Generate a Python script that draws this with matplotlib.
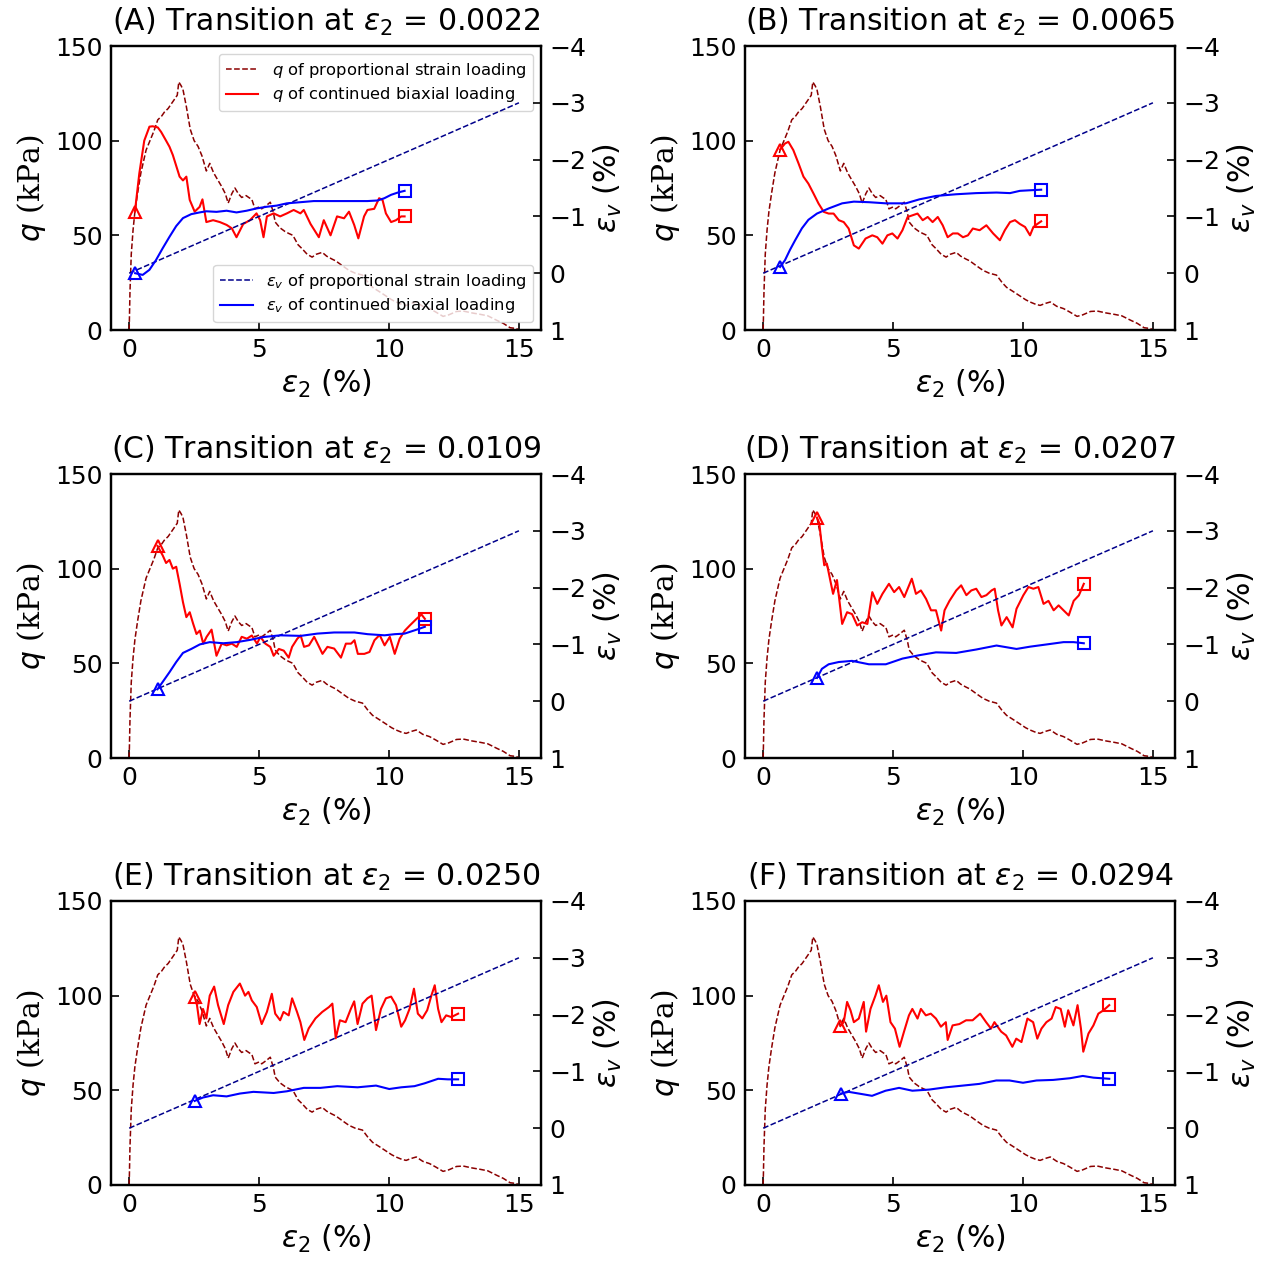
import matplotlib
matplotlib.use("Agg")
import matplotlib.pyplot as plt

# ---------------- data ----------------
# proportional strain loading: q (kPa) vs eps2 (%)
prop_x = [0.0, 0.03, 0.08, 0.15, 0.22, 0.32, 0.45, 0.65, 0.8, 0.95, 1.1, 1.25, 1.35, 1.5, 1.6,
          1.75, 1.85, 1.91, 2.0, 2.07, 2.2, 2.35, 2.5, 2.65, 2.8, 2.97, 3.1, 3.25, 3.42, 3.55,
          3.7, 3.81, 3.95, 4.07, 4.2, 4.33, 4.5, 4.6, 4.72, 4.84, 5.0, 5.1, 5.3, 5.43, 5.55,
          5.62, 5.8, 6.0, 6.14, 6.3, 6.5, 6.65, 6.85, 7.04, 7.2, 7.43, 7.6, 7.8, 7.95, 8.2,
          8.46, 8.7, 8.98, 9.2, 9.37, 9.6, 9.88, 10.1, 10.27, 10.5, 10.66, 10.85, 11.05, 11.3,
          11.56, 11.8, 12.08, 12.3, 12.6, 12.86, 13.2, 13.5, 13.8, 14.15, 14.4, 14.66, 14.9, 15.0]
prop_q = [0, 20, 40, 53, 62.5, 72, 83, 95, 100, 105, 111, 113, 115, 117, 119,
          122, 124, 131, 129, 127, 118, 106, 100, 97, 92, 84, 88, 83, 79, 76,
          72, 67, 72, 75, 72, 70, 71, 70, 69, 64, 65, 64, 66, 67.5, 62,
          57, 54, 52, 51, 50, 45, 43, 40, 38.5, 40, 41, 39, 37.5, 36.5, 34,
          31.5, 30, 29, 25, 22.5, 20.5, 18, 16, 14.8, 13.5, 13, 14, 14.8, 12.5,
          11.3, 9.5, 7.2, 8.0, 9.8, 10, 9, 8.3, 7.5, 5.1, 3.5, 1.2, 0.8, 0]
# proportional strain loading: eps_v (%)
prop_ev_x = [0.0, 15.0]
prop_ev = [0.0, -3.0]

panel_titles = ["(A) Transition at $\\varepsilon_2$ = 0.0022",
                "(B) Transition at $\\varepsilon_2$ = 0.0065",
                "(C) Transition at $\\varepsilon_2$ = 0.0109",
                "(D) Transition at $\\varepsilon_2$ = 0.0207",
                "(E) Transition at $\\varepsilon_2$ = 0.0250",
                "(F) Transition at $\\varepsilon_2$ = 0.0294"]

# continued biaxial loading, panel A
A_qx = [0.22, 0.39, 0.58, 0.78, 0.9, 1.1, 1.23, 1.42, 1.55, 1.68, 1.94, 2.07, 2.2, 2.33, 2.52,
        2.71, 2.82, 2.97, 3.23, 3.49, 3.75, 3.95, 4.13, 4.39, 4.65, 4.9, 5.04, 5.17, 5.3, 5.56,
        5.81, 6.07, 6.33, 6.59, 6.72, 6.98, 7.3, 7.49, 7.75, 8.0, 8.27, 8.46, 8.66, 8.82, 9.04,
        9.17, 9.43, 9.62, 9.75, 9.88, 10.08, 10.27, 10.47, 10.6]
A_q = [62.5, 82.7, 100, 107.4, 107.6, 107, 104.6, 100, 96.8, 92.4, 81, 79, 81, 68.7, 62.5,
       65, 69, 57, 58, 57, 55.5, 53.7, 49, 56, 58, 61.6, 58, 49, 60, 61.6,
       60, 61.6, 63.4, 61.6, 63.4, 56, 49, 58, 50, 60, 59, 62.5, 55.5, 48.4, 60,
       63.4, 64, 69.6, 68.7, 61.6, 57, 58, 60, 60]
A_evx = [0.23, 0.52, 0.78, 1.03, 1.29, 1.55, 1.81, 2.07, 2.39, 2.71, 2.97, 3.36, 3.75, 4.13,
         4.52, 4.9, 5.3, 5.68, 6.07, 6.59, 7.1, 7.88, 8.66, 9.17, 9.56, 9.82, 10.08, 10.34, 10.6]
A_ev = [0.0, 0.03, -0.06, -0.23, -0.44, -0.64, -0.83, -0.97, -1.04, -1.07, -1.09, -1.08, -1.1,
        -1.07, -1.1, -1.14, -1.17, -1.19, -1.23, -1.25, -1.27, -1.27, -1.27, -1.27, -1.28,
        -1.32, -1.38, -1.42, -1.45]

# panel B
B_qx = [0.65, 0.84, 0.97, 1.16, 1.36, 1.55, 1.74, 1.94, 2.13, 2.33, 2.52, 2.71, 2.91, 3.1, 3.29,
        3.49, 3.68, 3.94, 4.2, 4.39, 4.59, 4.78, 4.97, 5.17, 5.36, 5.56, 5.75, 5.94, 6.14, 6.33,
        6.52, 6.72, 6.91, 7.1, 7.3, 7.49, 7.69, 7.88, 8.07, 8.33, 8.59, 8.85, 9.11, 9.3, 9.5,
        9.69, 9.88, 10.08, 10.27, 10.4, 10.53, 10.7]
B_q = [95.3, 98.5, 99.4, 95, 88, 81, 77.3, 72, 66.8, 62.4, 61.5, 61.5, 58, 57, 53.6,
       44.7, 43, 48.3, 50, 49, 45.6, 50, 51, 48.3, 52.7, 59.7, 60.6, 61.5, 58, 59.7,
       57, 59.7, 55.3, 49, 51, 51, 49, 50, 53.6, 52.7, 55.3, 51, 47.4, 52.7, 57,
       58, 56, 54.4, 50, 54.4, 55.8, 57.4]
B_evx = [0.65, 0.84, 1.03, 1.23, 1.49, 1.74, 2.07, 2.52, 3.04, 3.49, 4.07, 4.72, 5.49, 6.01,
         6.65, 7.43, 8.2, 8.98, 9.5, 9.88, 10.27, 10.7]
B_ev = [-0.11, -0.23, -0.41, -0.58, -0.79, -0.94, -1.05, -1.14, -1.23, -1.26, -1.25, -1.23,
        -1.23, -1.3, -1.36, -1.39, -1.41, -1.42, -1.41, -1.45, -1.46, -1.47]

# panel C
C_qx = [1.09, 1.29, 1.42, 1.55, 1.68, 1.81, 1.94, 2.07, 2.2, 2.33, 2.46, 2.59, 2.72, 2.85, 2.98,
        3.17, 3.36, 3.56, 3.75, 3.95, 4.14, 4.33, 4.53, 4.72, 4.92, 5.05, 5.24, 5.43, 5.56, 5.76,
        5.95, 6.14, 6.27, 6.47, 6.6, 6.73, 6.92, 7.12, 7.31, 7.44, 7.63, 7.89, 8.15, 8.34, 8.54,
        8.67, 8.8, 9.05, 9.25, 9.44, 9.64, 9.83, 10.03, 10.22, 10.41, 10.61, 10.8, 11.06, 11.25, 11.38]
C_q = [112, 107, 103, 104.6, 100, 101, 92, 82.3, 74.4, 77, 71, 65.5, 67.3, 60.4, 64,
       67.8, 54, 60.4, 59.5, 60.4, 58.7, 64, 63, 64.7, 60.4, 64, 60.4, 58.7, 54, 57.6,
       56.7, 53, 58.7, 63, 64.7, 58.7, 59.5, 64, 58.7, 55, 58.7, 57.8, 53, 60.4, 60.4,
       62.2, 55, 55, 56, 62.2, 65, 59.5, 64, 55, 63, 67.3, 70, 73.5, 75.8, 73.5]
C_evx = [1.09, 1.29, 1.55, 1.81, 2.07, 2.39, 2.72, 3.1, 3.62, 4.14, 4.66, 5.17, 5.82, 6.6,
         7.24, 7.89, 8.67, 9.18, 9.83, 10.22, 10.6, 11.0, 11.38]
C_ev = [-0.21, -0.34, -0.51, -0.69, -0.85, -0.92, -1.0, -1.04, -1.02, -1.04, -1.08, -1.13,
        -1.16, -1.15, -1.19, -1.21, -1.21, -1.18, -1.16, -1.18, -1.19, -1.25, -1.31]

# panel D
D_qx = [2.07, 2.16, 2.26, 2.35, 2.45, 2.58, 2.69, 2.84, 3.04, 3.23, 3.42, 3.62, 3.81, 4.01, 4.2,
        4.39, 4.59, 4.84, 5.04, 5.23, 5.43, 5.72, 5.88, 6.07, 6.27, 6.46, 6.65, 6.85, 6.98, 7.17,
        7.43, 7.62, 7.82, 8.01, 8.2, 8.4, 8.59, 8.79, 8.91, 9.04, 9.17, 9.37, 9.6, 9.75, 10.01,
        10.21, 10.4, 10.59, 10.79, 10.98, 11.18, 11.37, 11.56, 11.76, 11.95, 12.15, 12.34]
D_q = [127, 124, 111.5, 101.8, 102.7, 94, 86.7, 94, 70.8, 77, 76, 70, 71.7, 70.8, 87.6,
       81.4, 86.7, 92, 87.6, 90.3, 85, 94.7, 86.7, 88.5, 84, 78, 78, 67.3, 78, 83,
       88.5, 91.2, 86, 88.5, 89.4, 85, 86, 88.5, 89.4, 78, 70, 74.4, 69, 78.8, 85.9,
       90.3, 89.4, 90.3, 81.4, 83, 78, 80.6, 78, 75.3, 83, 85.9, 92]
D_evx = [2.07, 2.26, 2.52, 2.91, 3.42, 4.07, 4.72, 5.36, 6.01, 6.65, 7.43, 8.2, 8.98, 9.75,
         10.27, 10.92, 11.56, 11.95, 12.34]
D_ev = [-0.41, -0.57, -0.65, -0.69, -0.71, -0.65, -0.65, -0.75, -0.81, -0.86, -0.85, -0.91,
        -0.98, -0.92, -0.96, -1.0, -1.04, -1.04, -1.02]

# panel E
E_qx = [2.52, 2.61, 2.71, 2.84, 2.97, 3.1, 3.27, 3.42, 3.64, 3.81, 4.01, 4.26, 4.46, 4.59, 4.72,
        4.91, 5.1, 5.3, 5.49, 5.62, 5.81, 5.94, 6.14, 6.27, 6.46, 6.59, 6.74, 6.91, 7.17, 7.43,
        7.69, 7.82, 7.95, 8.11, 8.33, 8.53, 8.66, 8.79, 8.98, 9.17, 9.33, 9.5, 9.69, 9.88, 10.08,
        10.27, 10.47, 10.62, 10.79, 10.96, 11.11, 11.28, 11.47, 11.63, 11.76, 11.89, 12.02, 12.2,
        12.4, 12.66]
E_q = [99.5, 95, 85, 93, 88, 100, 104.8, 95, 85, 95, 102, 106.4, 100, 102, 97.5,
       94, 85, 91.4, 101, 90.5, 87, 91.4, 89.6, 98.6, 91.4, 86, 76.6, 82.7, 88, 91.4,
       94, 95.8, 77.5, 87, 86, 93, 97, 85, 95.8, 98.6, 100, 81.8, 93, 98.6, 99.5,
       95, 83.6, 87, 93, 103.7, 90.5, 88, 92.3, 100, 105.5, 93, 86, 89.6,
       88.7, 90.5]
E_evx = [2.52, 2.84, 3.23, 3.75, 4.26, 4.78, 5.56, 6.07, 6.72, 7.36, 8.01, 8.79, 9.5, 10.01,
         10.47, 10.98, 11.37, 11.89, 12.27, 12.66]
E_ev = [-0.48, -0.54, -0.58, -0.56, -0.61, -0.64, -0.62, -0.65, -0.71, -0.71, -0.74, -0.72,
        -0.75, -0.69, -0.72, -0.74, -0.79, -0.87, -0.86, -0.86]

# panel F
F_qx = [2.97, 3.1, 3.23, 3.36, 3.49, 3.68, 3.87, 3.96, 4.13, 4.32, 4.45, 4.61, 4.74, 4.9, 5.07,
        5.25, 5.42, 5.61, 5.74, 5.94, 6.07, 6.26, 6.45, 6.65, 6.84, 7.03, 7.1, 7.29, 7.55, 7.81,
        8.06, 8.35, 8.58, 8.77, 8.9, 9.16, 9.35, 9.59, 9.74, 9.94, 10.17, 10.39, 10.55, 10.71,
        10.9, 11.1, 11.26, 11.45, 11.61, 11.74, 11.94, 12.1, 12.23, 12.32, 12.52, 12.71, 12.9,
        13.1, 13.32]
F_q = [84, 86, 96.7, 92.3, 86, 87.9, 96.7, 81, 93, 100, 105.5, 96.7, 100, 86, 82.6,
       73, 81, 89.6, 93, 87.9, 93, 89.6, 90.5, 87.9, 83.6, 86, 76.6, 84.3, 85, 87,
       87, 90.5, 86, 82.6, 86, 81, 79, 73, 77.3, 75.5, 87.9, 86, 77.3, 82.6,
       86, 87.9, 94, 93, 83.6, 92.3, 84.3, 95, 82.6, 70.4, 80, 84.3, 90.5,
       92.3, 95]
F_evx = [2.99, 3.29, 3.81, 4.19, 4.71, 5.23, 5.74, 6.39, 7.03, 7.68, 8.32, 8.97, 9.48, 10.0,
         10.52, 11.16, 11.81, 12.3, 12.71, 13.32]
F_ev = [-0.61, -0.64, -0.6, -0.57, -0.66, -0.71, -0.66, -0.68, -0.72, -0.75, -0.78, -0.84,
        -0.84, -0.8, -0.84, -0.85, -0.88, -0.92, -0.89, -0.87]

panels = [(A_qx, A_q, A_evx, A_ev), (B_qx, B_q, B_evx, B_ev), (C_qx, C_q, C_evx, C_ev),
          (D_qx, D_q, D_evx, D_ev), (E_qx, E_q, E_evx, E_ev), (F_qx, F_q, F_evx, F_ev)]

x_ticks = [0, 5, 10, 15]
q_ticks = [0, 50, 100, 150]
ev_ticks = [-4, -3, -2, -1, 0, 1]

# ---------------- figure ----------------
W, H = 1274, 1261
fig = plt.figure(figsize=(W / 100, H / 100), dpi=100)

col_left = [111, 745]
row_top = [46, 474, 901]
ax_w, ax_h = 430, 284

TICK = 18
LAB = 21.5

for i, (qx, q, evx, ev) in enumerate(panels):
    r, c = divmod(i, 2)
    left = col_left[c] / W
    bottom = 1 - (row_top[r] + ax_h) / H
    ax = fig.add_axes([left, bottom, ax_w / W, ax_h / H])
    l1, = ax.plot(prop_x, prop_q, '--', color='#8b0000', lw=1.1,
                  label='$q$ of proportional strain loading')
    l2, = ax.plot(qx, q, '-', color='red', lw=1.5, label='$q$ of continued biaxial loading')
    ax.plot(qx[:1], q[:1], '^', mfc='none', mec='red', ms=9, mew=1.5)
    ax.plot(qx[-1:], q[-1:], 's', mfc='none', mec='red', ms=9, mew=1.5)
    ax.set_xlim(-0.7, 15.85)
    ax.set_ylim(0, 150)
    ax.set_xticks(x_ticks)
    ax.set_yticks(q_ticks)
    ax.tick_params(direction='in', length=6, width=1.2, labelsize=TICK, pad=6)
    for s in ax.spines.values():
        s.set_linewidth(1.6)
    ax.set_xlabel('$\\varepsilon_2$ (%)', fontsize=LAB, labelpad=4)
    ax.set_ylabel('$q$ (kPa)', fontsize=LAB, family='DejaVu Serif', labelpad=5)
    ax.set_title(panel_titles[i], fontsize=21.5, pad=11)

    ax2 = ax.twinx()
    l3, = ax2.plot(prop_ev_x, prop_ev, '--', color='#00008b', lw=1.1,
                   label='$\\varepsilon_v$ of proportional strain loading')
    l4, = ax2.plot(evx, ev, '-', color='blue', lw=1.5,
                   label='$\\varepsilon_v$ of continued biaxial loading')
    ax2.plot(evx[:1], ev[:1], '^', mfc='none', mec='blue', ms=9, mew=1.5)
    ax2.plot(evx[-1:], ev[-1:], 's', mfc='none', mec='blue', ms=9, mew=1.5)
    ax2.set_ylim(1, -4)
    ax2.set_yticks(ev_ticks)
    ax2.tick_params(direction='in', length=6, width=1.2, labelsize=TICK, pad=6)
    for s in ax2.spines.values():
        s.set_linewidth(1.6)
    ax2.set_ylabel('$\\varepsilon_v$ (%)', fontsize=LAB, labelpad=4)

    if i == 0:
        ax.legend(handles=[l1, l2], loc='upper right', fontsize=11.8, labelspacing=0.35)
        ax2.legend(handles=[l3, l4], loc='lower right', fontsize=11.8, labelspacing=0.35)

fig.savefig('out.png', dpi=100)
